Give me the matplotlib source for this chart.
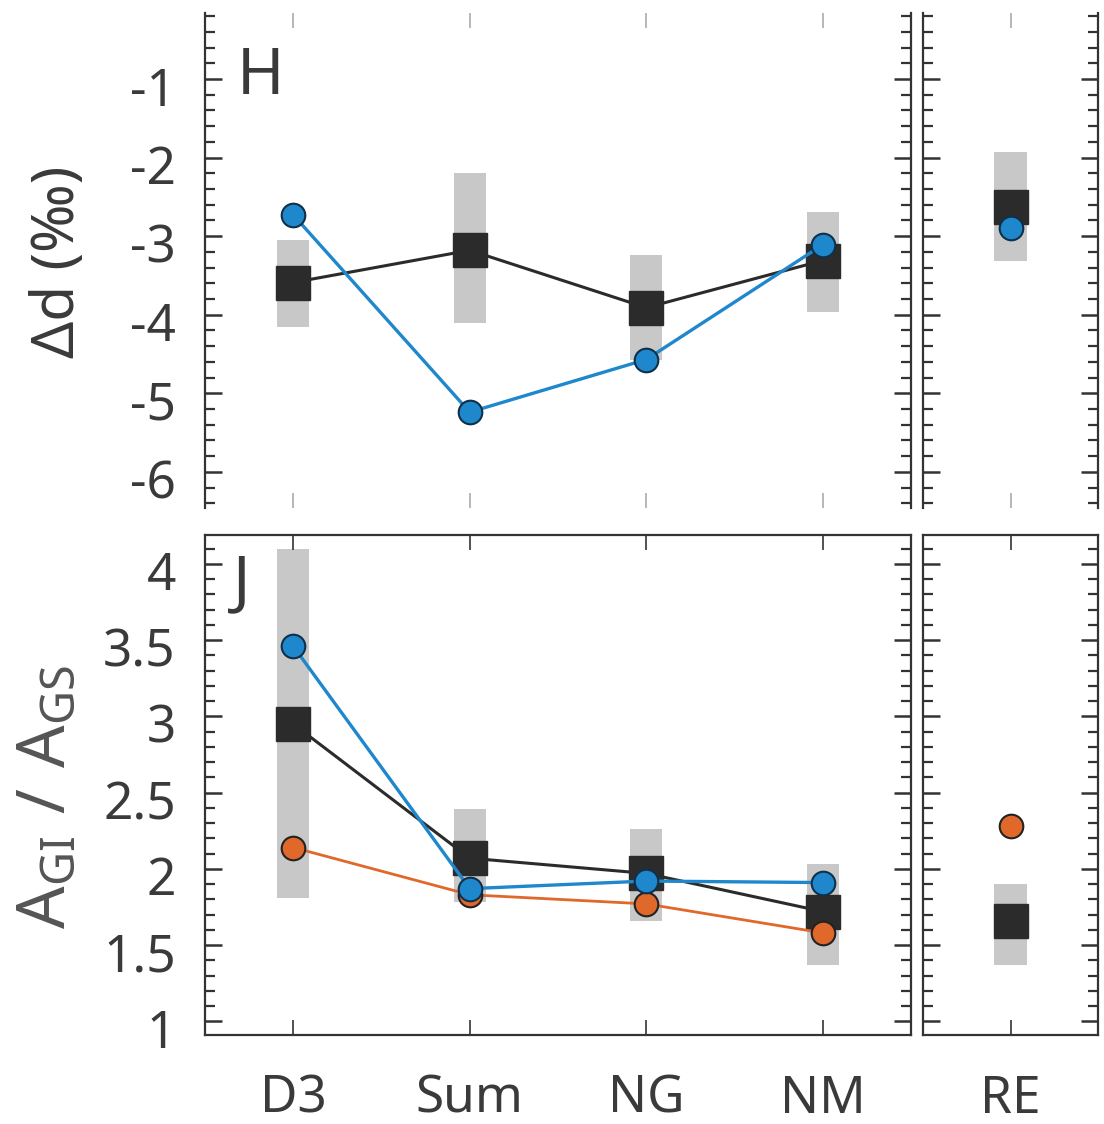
import numpy as np
import matplotlib
matplotlib.use('Agg')
import matplotlib.pyplot as plt
from matplotlib.ticker import MultipleLocator
from matplotlib.transforms import ScaledTranslation

plt.rcParams['font.family'] = ['Noto Sans', 'DejaVu Sans']
plt.rcParams['axes.unicode_minus'] = False
plt.rcParams['mathtext.fontset'] = 'custom'
plt.rcParams['mathtext.rm'] = 'Noto Sans'
plt.rcParams['mathtext.it'] = 'Noto Sans'

# Datos
categorias = ['D3', 'Sum', 'NG', 'NM']
cat_re = ['RE']

# Panel H (delta d, permil)
h_media = [-3.59, -3.18, -3.91, -3.31]
h_inf = [-4.16, -4.11, -4.58, -3.97]
h_sup = [-3.05, -2.20, -3.24, -2.69]
h_azul = [-2.73, -5.24, -4.57, -3.11]
h_re_media = [-2.63]
h_re_inf = [-3.31]
h_re_sup = [-1.93]
h_re_azul = [-2.90]

# Panel J (A_GI / A_GS)
j_media = [2.95, 2.07, 1.97, 1.72]
j_inf = [1.81, 1.78, 1.66, 1.37]
j_sup = [4.10, 2.39, 2.26, 2.03]
j_azul = [3.46, 1.87, 1.92, 1.91]
j_naranja = [2.14, 1.83, 1.77, 1.58]
j_re_media = [1.66]
j_re_inf = [1.37]
j_re_sup = [1.90]
j_re_naranja = [2.28]

GRIS = '#c8c8c8'
NEGRO = '#2b2b2b'
AZUL = '#1f87cc'
NARANJA = '#e0682a'
TXT = '#3a3a3a'

W, H = 1104, 1124
fig = plt.figure(figsize=(W / 100, H / 100), dpi=100)

def caja(x0, y0, x1, y1):
    return [x0 / W, 1 - y1 / H, (x1 - x0) / W, (y1 - y0) / H]

ax1 = fig.add_axes(caja(205, 13, 911, 508))
ax2 = fig.add_axes(caja(923, 13, 1098, 508))
ax3 = fig.add_axes(caja(205, 535, 911, 1035))
ax4 = fig.add_axes(caja(923, 535, 1098, 1035))

def dibujar(ax, x, media, inf, sup, ancho, azul=None, naranja=None, lineas=True):
    inf = np.array(inf)
    sup = np.array(sup)
    ax.bar(x, sup - inf, bottom=inf, width=ancho, color=GRIS, zorder=1)
    ls = '-' if lineas else 'none'
    ax.plot(x, media, ls, color=NEGRO, lw=2.2, marker='s', ms=25,
            mfc=NEGRO, mec=NEGRO, zorder=3)
    if naranja is not None:
        ax.plot(x, naranja, ls, color=NARANJA, lw=2.0, marker='o', ms=17,
                mfc=NARANJA, mec='#222222', mew=1.5, zorder=4)
    if azul is not None:
        ax.plot(x, azul, ls, color=AZUL, lw=2.4, marker='o', ms=17,
                mfc=AZUL, mec='#10304a', mew=1.5, zorder=5)

x = np.arange(1, len(categorias) + 1)
xr = np.arange(1, len(cat_re) + 1)

dibujar(ax1, x, h_media, h_inf, h_sup, 0.18, azul=h_azul)
dibujar(ax2, xr, h_re_media, h_re_inf, h_re_sup, 0.19, azul=h_re_azul, lineas=False)
dibujar(ax3, x, j_media, j_inf, j_sup, 0.18, azul=j_azul, naranja=j_naranja)
dibujar(ax4, xr, j_re_media, j_re_inf, j_re_sup, 0.19, naranja=j_re_naranja, lineas=False)

for ax in (ax1, ax2):
    ax.set_ylim(-6.46, -0.16)
    ax.yaxis.set_major_locator(MultipleLocator(1))
    ax.yaxis.set_minor_locator(MultipleLocator(0.2))
    ax.spines['top'].set_visible(False)
    ax.spines['bottom'].set_visible(False)

for ax in (ax3, ax4):
    ax.set_ylim(0.91, 4.19)
    ax.yaxis.set_major_locator(MultipleLocator(0.5))
    ax.yaxis.set_minor_locator(MultipleLocator(0.1))

for ax in (ax1, ax3):
    ax.set_xlim(0.5, 4.5)
    ax.set_xticks(x)
for ax in (ax2, ax4):
    ax.set_xlim(0.5, 1.5)
    ax.set_xticks(xr)

for ax in (ax1, ax2, ax3, ax4):
    for s in ax.spines.values():
        s.set_linewidth(1.6)
        s.set_color('#333333')
    ax.tick_params(axis='y', which='major', direction='in', left=True, right=True,
                   length=12, width=1.8, color='#333333', labelsize=37, labelcolor=TXT, pad=21)
    ax.tick_params(axis='y', which='minor', direction='in', left=True, right=True,
                   length=7, width=1.6, color='#333333')
    ax.tick_params(axis='x', which='major', direction='in', top=True, bottom=True,
                   length=11, width=1.2, labelsize=37, labelcolor=TXT, pad=28)

for ax in (ax1, ax2):
    ax.tick_params(axis='x', color='#aaaaaa', labelbottom=False)
    ax.set_xticklabels([])
for ax in (ax2, ax4):
    ax.tick_params(axis='y', labelleft=False)

ax3.set_xticklabels(categorias)
ax4.set_xticklabels(cat_re)
ax3.tick_params(axis='x', color='#333333')
ax4.tick_params(axis='x', color='#333333')

ax1.set_yticks(ax1.get_yticks())
ax1.set_yticklabels([f'{v:g}' for v in ax1.get_yticks()])
ax3.set_yticks(ax3.get_yticks())
ax3.set_yticklabels([f'{v:g}' for v in ax3.get_yticks()])
ax1.set_ylim(-6.46, -0.16)
ax3.set_ylim(0.91, 4.19)

# etiquetas un poco por debajo de la marca, como en el original
desplaz = ScaledTranslation(0, -0.07, fig.dpi_scale_trans)
for ax in (ax1, ax3):
    for lab in ax.get_yticklabels():
        lab.set_transform(lab.get_transform() + desplaz)

ax1.set_ylabel('Δd (‰)', fontsize=42, color=TXT)
ax3.set_ylabel(r'$\mathrm{A_{GI}\ /\ A_{GS}}$', fontsize=48, color='#555555')
ax1.yaxis.set_label_coords(-0.166, 0.497)
ax3.yaxis.set_label_coords(-0.176, 0.476)

ax1.text(0.045, 0.935, 'H', transform=ax1.transAxes, fontsize=46, color=TXT, va='top', ha='left')
ax3.text(0.04, 0.965, 'J', transform=ax3.transAxes, fontsize=46, color=TXT, va='top', ha='left')

fig.savefig('out.png', dpi=100, facecolor='white')
